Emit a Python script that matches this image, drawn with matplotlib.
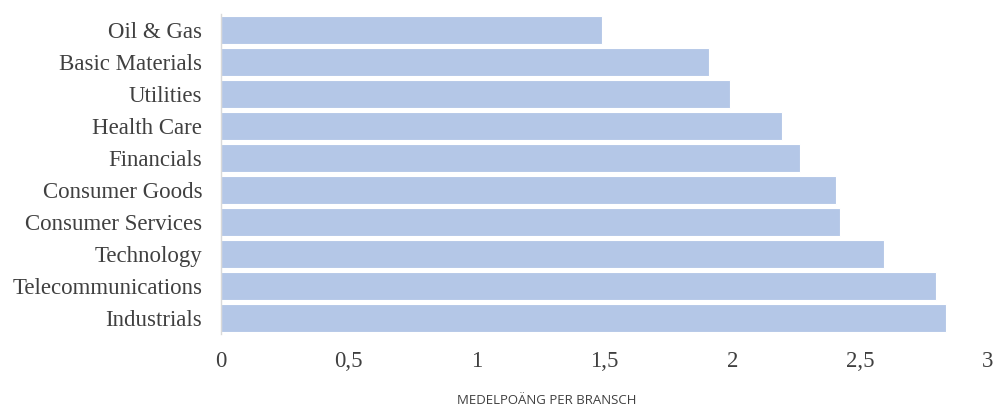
import numpy as np
from matplotlib import pyplot as plt

# data, top to bottom
sectors = ['Oil & Gas', 'Basic Materials', 'Utilities', 'Health Care', 'Financials',
           'Consumer Goods', 'Consumer Services', 'Technology', 'Telecommunications',
           'Industrials']
scores = [1.49, 1.91, 1.99, 2.195, 2.265, 2.405, 2.42, 2.595, 2.795, 2.835]
xticks = [0, 0.5, 1, 1.5, 2, 2.5, 3]
xtick_labels = ['0', '0,5', '1', '1,5', '2', '2,5', '3']

BAR_COLOUR = '#b4c7e7'
TEXT_COLOUR = '#404040'

fig = plt.figure(figsize=(9.97, 4.08), dpi=100)
ax = fig.add_axes([221 / 997, 1 - 334 / 408, (988 - 221) / 997, 320 / 408])

y = np.arange(len(sectors))
ax.barh(y, scores, height=0.9, color=BAR_COLOUR, edgecolor='white', linewidth=0.8)
ax.set_ylim(len(sectors) - 0.5, -0.5)
ax.set_xlim(0, 3)

ax.set_yticks(y)
ax.set_yticklabels(sectors, family='Liberation Serif', fontsize=16.5, color=TEXT_COLOUR)
ax.set_xticks(xticks)
ax.set_xticklabels(xtick_labels, family='Liberation Serif', fontsize=16.5, color=TEXT_COLOUR)
ax.tick_params(axis='y', length=0, pad=13.5)
ax.tick_params(axis='x', length=0, pad=12)

for side in ['top', 'right', 'bottom']:
    ax.spines[side].set_visible(False)
ax.spines['left'].set_color('#d9d9d9')
ax.spines['left'].set_linewidth(1)

fig.text(547 / 997, 1 - 401 / 408, 'MEDELPOÄNG PER BRANSCH', family='Open Sans',
         fontsize=9.5, color=TEXT_COLOUR, ha='center', va='center')

fig.savefig('out.png', dpi=100)
